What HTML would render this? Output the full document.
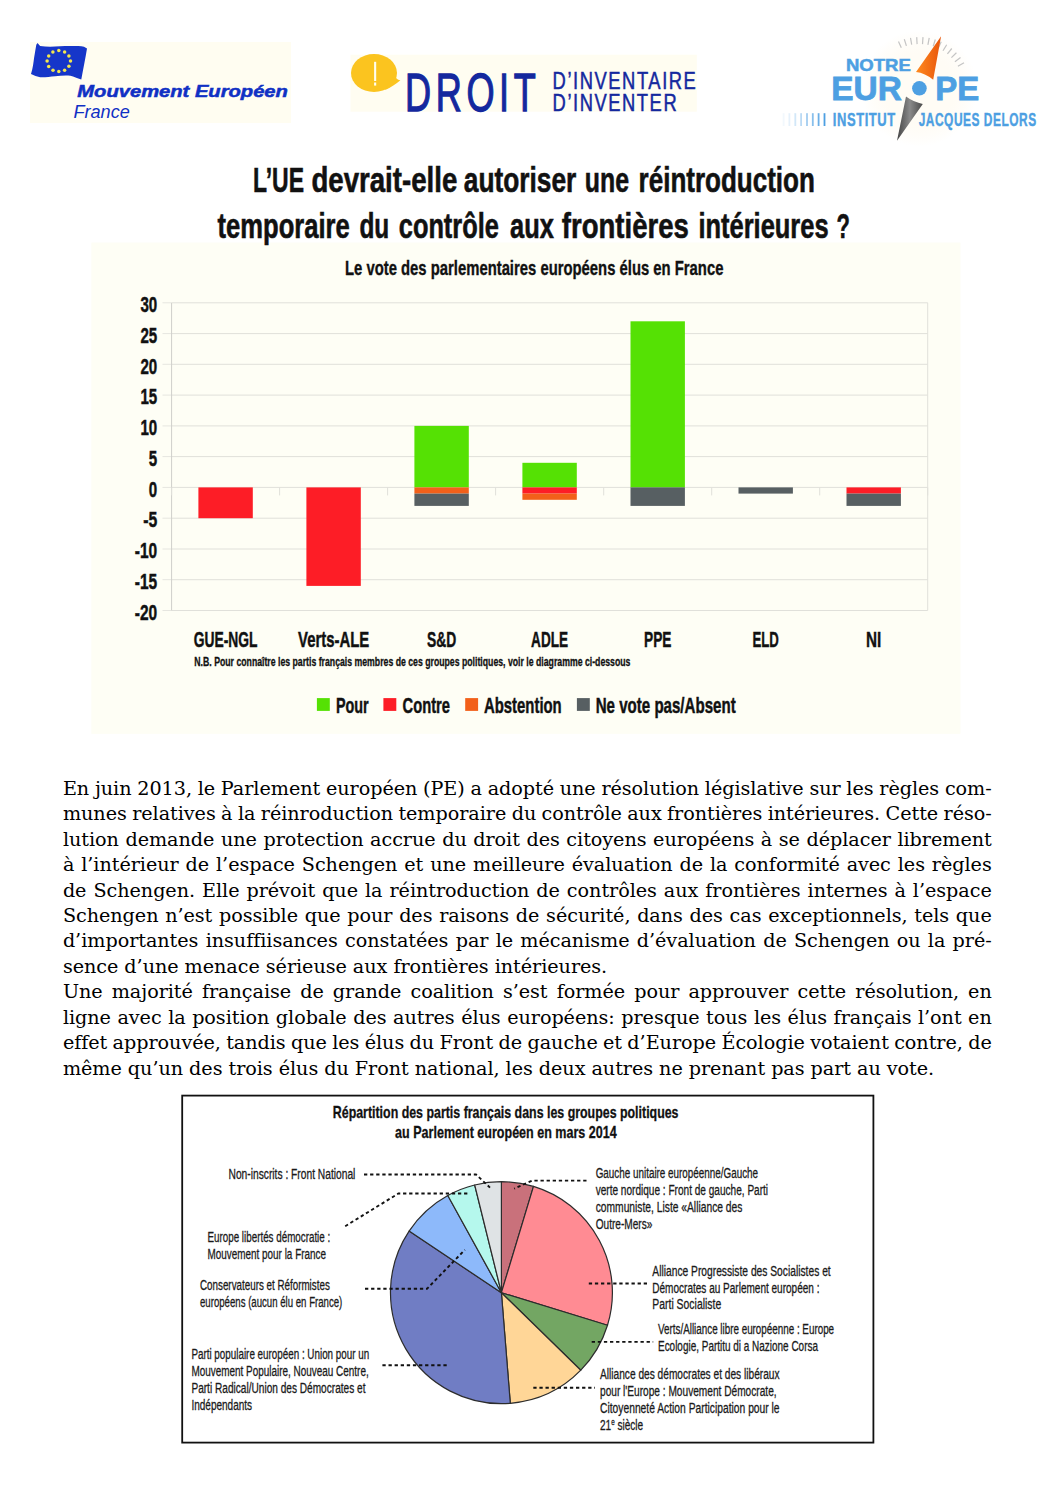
<!DOCTYPE html>
<html lang="fr"><head><meta charset="utf-8"><title>L’UE devrait-elle autoriser une réintroduction temporaire du contrôle aux frontières intérieures ?</title>
<style>
html,body{margin:0;padding:0;background:#fff}
body{width:1058px;height:1497px;position:relative;overflow:hidden}
svg{position:absolute;left:0;top:0}
svg text{font-family:"Liberation Sans",sans-serif;white-space:pre}
.ln{position:absolute;left:62.9px;white-space:nowrap;font-family:"DejaVu Serif","Liberation Serif",serif;font-size:19.2px;line-height:25px;height:25px;letter-spacing:-0.05px;color:#000}
</style></head><body>
<svg width="1058" height="1497" viewBox="0 0 1058 1497">
<rect x="30.0" y="42.0" width="261.0" height="81.0" fill="#fffdf1" />
<path d="M37.5,42.9 L40.1,46 C50,47.6 60,46 70,46 C76,46 81,46 84,46.7 L87,48.6 C85.5,58 83,70 81.3,79.6 C77,78.5 74,76.5 70.4,75.8 C65,75 60,76 55.2,76.2 C50,76.5 45,77.6 40.1,77.3 C37,76.5 34,75.3 31,73.9 C33,68 33.5,62 34.1,57.7 C35,53 35.5,49 36.3,44.8 Z" fill="#1636c9"/>
<circle cx="58.8" cy="50.6" r="1.75" fill="#f3e64e"/>
<circle cx="64.6" cy="52.0" r="1.75" fill="#f3e64e"/>
<circle cx="68.9" cy="55.9" r="1.75" fill="#f3e64e"/>
<circle cx="70.5" cy="61.1" r="1.75" fill="#f3e64e"/>
<circle cx="68.9" cy="66.3" r="1.75" fill="#f3e64e"/>
<circle cx="64.6" cy="70.2" r="1.75" fill="#f3e64e"/>
<circle cx="58.8" cy="71.6" r="1.75" fill="#f3e64e"/>
<circle cx="53.0" cy="70.2" r="1.75" fill="#f3e64e"/>
<circle cx="48.7" cy="66.4" r="1.75" fill="#f3e64e"/>
<circle cx="47.1" cy="61.1" r="1.75" fill="#f3e64e"/>
<circle cx="48.7" cy="55.9" r="1.75" fill="#f3e64e"/>
<circle cx="52.9" cy="52.0" r="1.75" fill="#f3e64e"/>
<text x="77.3" y="97.3" font-size="16" font-weight="bold" fill="#1030c4" font-style="italic" textLength="210.6" lengthAdjust="spacingAndGlyphs" stroke="#1030c4" stroke-width="0.5" >Mouvement Européen</text>
<text x="73.4" y="118.0" font-size="18" font-weight="normal" fill="#1030c4" font-style="italic" textLength="56.4" lengthAdjust="spacingAndGlyphs" >France</text>
<rect x="350.5" y="54.7" width="346.3" height="57.0" fill="#fffdf1" />
<ellipse cx="374" cy="73" rx="23" ry="19" fill="#fbc41f"/>
<path d="M394,74 C395,77 396.5,79.5 400.4,80.3 C396,84 391,87.5 385,90 Z" fill="#fbc41f"/>
<rect x="374.1" y="61.8" width="2.1" height="19.2" fill="#fffef0" />
<rect x="374.1" y="82.5" width="2.1" height="3.1" fill="#fffef0" />
<text x="405.0" y="111.0" font-size="54.2" font-weight="normal" fill="#14289e" textLength="135.5" lengthAdjust="spacingAndGlyphs" stroke="#14289e" stroke-width="1.3" letter-spacing="7">DROIT</text>
<text x="552.6" y="89.0" font-size="23.4" font-weight="normal" fill="#14289e" textLength="144.8" lengthAdjust="spacingAndGlyphs" stroke="#14289e" stroke-width="0.5" letter-spacing="2">D’INVENTAIRE</text>
<text x="552.6" y="111.0" font-size="23.4" font-weight="normal" fill="#14289e" textLength="125.6" lengthAdjust="spacingAndGlyphs" stroke="#14289e" stroke-width="0.5" letter-spacing="2">D’INVENTER</text>
<defs><radialGradient id="halo"><stop offset="0" stop-color="#fffcf5"/><stop offset="0.6" stop-color="#fffcf5"/><stop offset="1" stop-color="#fffaf0" stop-opacity="0"/></radialGradient><linearGradient id="fade" x1="0" x2="1"><stop offset="0" stop-color="#4d9fe2" stop-opacity="0.08"/><stop offset="1" stop-color="#4d9fe2" stop-opacity="1"/></linearGradient><linearGradient id="org" x1="0" x2="1"><stop offset="0" stop-color="#ff8a1e"/><stop offset="1" stop-color="#e8560c"/></linearGradient><linearGradient id="gry" x1="0" x2="1"><stop offset="0" stop-color="#444"/><stop offset="0.5" stop-color="#8a8a8a"/><stop offset="1" stop-color="#4a4a4a"/></linearGradient></defs>
<circle cx="919.4" cy="88.5" r="58" fill="url(#halo)"/>
<line x1="901.3" y1="47.8" x2="898.5" y2="41.5" stroke="#c4c4c4" stroke-width="1.2" />
<line x1="906.4" y1="45.9" x2="904.3" y2="39.3" stroke="#c4c4c4" stroke-width="1.2" />
<line x1="911.7" y1="44.7" x2="910.5" y2="37.8" stroke="#c4c4c4" stroke-width="1.2" />
<line x1="917.1" y1="44.1" x2="916.7" y2="37.1" stroke="#c4c4c4" stroke-width="1.2" />
<line x1="922.5" y1="44.1" x2="923.0" y2="37.1" stroke="#c4c4c4" stroke-width="1.2" />
<line x1="927.9" y1="44.8" x2="929.2" y2="37.9" stroke="#c4c4c4" stroke-width="1.2" />
<line x1="933.2" y1="46.2" x2="935.3" y2="39.5" stroke="#c4c4c4" stroke-width="1.2" />
<line x1="938.2" y1="48.2" x2="941.2" y2="41.8" stroke="#c4c4c4" stroke-width="1.2" />
<line x1="943.0" y1="50.8" x2="946.7" y2="44.8" stroke="#c4c4c4" stroke-width="1.2" />
<line x1="947.4" y1="53.9" x2="951.8" y2="48.5" stroke="#c4c4c4" stroke-width="1.2" />
<line x1="951.4" y1="57.6" x2="956.4" y2="52.7" stroke="#c4c4c4" stroke-width="1.2" />
<line x1="954.9" y1="61.7" x2="960.5" y2="57.5" stroke="#c4c4c4" stroke-width="1.2" />
<line x1="957.9" y1="66.2" x2="964.0" y2="62.7" stroke="#c4c4c4" stroke-width="1.2" />
<text x="846.0" y="70.5" font-size="16.2" font-weight="bold" fill="#4d9fe2" textLength="64.8" lengthAdjust="spacingAndGlyphs" stroke="#4d9fe2" stroke-width="0.5" >NOTRE</text>
<text x="831.2" y="100.1" font-size="33.4" font-weight="bold" fill="#4d9fe2" textLength="70.6" lengthAdjust="spacingAndGlyphs" stroke="#4d9fe2" stroke-width="0.8" >EUR</text>
<text x="935.2" y="100.1" font-size="33.4" font-weight="bold" fill="#4d9fe2" textLength="44.0" lengthAdjust="spacingAndGlyphs" stroke="#4d9fe2" stroke-width="0.8" >PE</text>
<circle cx="919.4" cy="88.3" r="7.3" fill="#4d9fe2"/>
<path d="M941.1,36.2 L916,72 Q925,73 933.2,79.8 Z" fill="url(#org)"/>
<path d="M906,96.6 Q914,102.5 922.8,103.9 L897,140.8 Z" fill="url(#gry)"/>
<rect x="782.7" y="113.2" width="1.8" height="12.8" fill="#4d9fe2" opacity="0.07"/>
<rect x="788.5" y="113.2" width="1.8" height="12.8" fill="#4d9fe2" opacity="0.14"/>
<rect x="794.4" y="113.2" width="1.8" height="12.8" fill="#4d9fe2" opacity="0.25"/>
<rect x="800.2" y="113.2" width="1.8" height="12.8" fill="#4d9fe2" opacity="0.38"/>
<rect x="806.1" y="113.2" width="1.8" height="12.8" fill="#4d9fe2" opacity="0.52"/>
<rect x="811.9" y="113.2" width="1.8" height="12.8" fill="#4d9fe2" opacity="0.67"/>
<rect x="817.7" y="113.2" width="1.8" height="12.8" fill="#4d9fe2" opacity="0.83"/>
<rect x="823.6" y="113.2" width="1.8" height="12.8" fill="#4d9fe2" opacity="1.00"/>
<text x="832.8" y="126.0" font-size="18.2" font-weight="bold" fill="#4d9fe2" textLength="63.0" lengthAdjust="spacingAndGlyphs" stroke="#4d9fe2" stroke-width="0.4" letter-spacing="0.8">INSTITUT</text>
<text x="918.7" y="126.0" font-size="18.2" font-weight="bold" fill="#4d9fe2" textLength="118.0" lengthAdjust="spacingAndGlyphs" stroke="#4d9fe2" stroke-width="0.4" letter-spacing="0.8">JACQUES DELORS</text>
<rect x="91.3" y="242.5" width="869.2" height="491.4" fill="#fefef5" />
<text y="192.4" font-size="35.2" font-weight="bold" fill="#111" stroke="#111" stroke-width="0.6"><tspan x="253.0" textLength="51.0" lengthAdjust="spacingAndGlyphs">L’UE</tspan> <tspan x="311.4" textLength="145.9" lengthAdjust="spacingAndGlyphs">devrait-elle</tspan> <tspan x="463.8" textLength="112.5" lengthAdjust="spacingAndGlyphs">autoriser</tspan> <tspan x="584.8" textLength="44.2" lengthAdjust="spacingAndGlyphs">une</tspan> <tspan x="638.6" textLength="176.2" lengthAdjust="spacingAndGlyphs">réintroduction</tspan></text>
<text y="237.8" font-size="35.2" font-weight="bold" fill="#111" stroke="#111" stroke-width="0.6"><tspan x="217.6" textLength="132.2" lengthAdjust="spacingAndGlyphs">temporaire</tspan> <tspan x="359.4" textLength="29.8" lengthAdjust="spacingAndGlyphs">du</tspan> <tspan x="398.8" textLength="100.0" lengthAdjust="spacingAndGlyphs">contrôle</tspan> <tspan x="510.0" textLength="43.8" lengthAdjust="spacingAndGlyphs">aux</tspan> <tspan x="561.8" textLength="127.0" lengthAdjust="spacingAndGlyphs">frontières</tspan> <tspan x="698.4" textLength="130.2" lengthAdjust="spacingAndGlyphs">intérieures</tspan> <tspan x="836.6" textLength="13.4" lengthAdjust="spacingAndGlyphs">?</tspan></text>
<text x="345.0" y="274.5" font-size="19.8" font-weight="bold" fill="#111" textLength="378.4" lengthAdjust="spacingAndGlyphs" stroke="#111" stroke-width="0.35" >Le vote des parlementaires européens élus en France</text>
<line x1="171.6" y1="302.8" x2="927.7" y2="302.8" stroke="#e0e0da" stroke-width="1" />
<line x1="162.5" y1="302.8" x2="171.6" y2="302.8" stroke="#e6e6e0" stroke-width="1" />
<line x1="171.6" y1="333.6" x2="927.7" y2="333.6" stroke="#e0e0da" stroke-width="1" />
<line x1="162.5" y1="333.6" x2="171.6" y2="333.6" stroke="#e6e6e0" stroke-width="1" />
<line x1="171.6" y1="364.3" x2="927.7" y2="364.3" stroke="#e0e0da" stroke-width="1" />
<line x1="162.5" y1="364.3" x2="171.6" y2="364.3" stroke="#e6e6e0" stroke-width="1" />
<line x1="171.6" y1="395.1" x2="927.7" y2="395.1" stroke="#e0e0da" stroke-width="1" />
<line x1="162.5" y1="395.1" x2="171.6" y2="395.1" stroke="#e6e6e0" stroke-width="1" />
<line x1="171.6" y1="425.9" x2="927.7" y2="425.9" stroke="#e0e0da" stroke-width="1" />
<line x1="162.5" y1="425.9" x2="171.6" y2="425.9" stroke="#e6e6e0" stroke-width="1" />
<line x1="171.6" y1="456.6" x2="927.7" y2="456.6" stroke="#e0e0da" stroke-width="1" />
<line x1="162.5" y1="456.6" x2="171.6" y2="456.6" stroke="#e6e6e0" stroke-width="1" />
<line x1="171.6" y1="487.4" x2="927.7" y2="487.4" stroke="#e0e0da" stroke-width="1" />
<line x1="162.5" y1="487.4" x2="171.6" y2="487.4" stroke="#e6e6e0" stroke-width="1" />
<line x1="171.6" y1="518.2" x2="927.7" y2="518.2" stroke="#e0e0da" stroke-width="1" />
<line x1="162.5" y1="518.2" x2="171.6" y2="518.2" stroke="#e6e6e0" stroke-width="1" />
<line x1="171.6" y1="549.0" x2="927.7" y2="549.0" stroke="#e0e0da" stroke-width="1" />
<line x1="162.5" y1="549.0" x2="171.6" y2="549.0" stroke="#e6e6e0" stroke-width="1" />
<line x1="171.6" y1="579.7" x2="927.7" y2="579.7" stroke="#e0e0da" stroke-width="1" />
<line x1="162.5" y1="579.7" x2="171.6" y2="579.7" stroke="#e6e6e0" stroke-width="1" />
<line x1="171.6" y1="610.5" x2="927.7" y2="610.5" stroke="#e0e0da" stroke-width="1" />
<line x1="162.5" y1="610.5" x2="171.6" y2="610.5" stroke="#e6e6e0" stroke-width="1" />
<line x1="171.6" y1="302.8" x2="171.6" y2="610.5" stroke="#cfcfca" stroke-width="1" />
<line x1="927.7" y1="302.8" x2="927.7" y2="610.5" stroke="#e0e0da" stroke-width="1" />
<line x1="171.6" y1="487.4" x2="171.6" y2="495.4" stroke="#e0e0da" stroke-width="1" />
<line x1="279.6" y1="487.4" x2="279.6" y2="495.4" stroke="#e0e0da" stroke-width="1" />
<line x1="387.6" y1="487.4" x2="387.6" y2="495.4" stroke="#e0e0da" stroke-width="1" />
<line x1="495.6" y1="487.4" x2="495.6" y2="495.4" stroke="#e0e0da" stroke-width="1" />
<line x1="603.7" y1="487.4" x2="603.7" y2="495.4" stroke="#e0e0da" stroke-width="1" />
<line x1="711.7" y1="487.4" x2="711.7" y2="495.4" stroke="#e0e0da" stroke-width="1" />
<line x1="819.7" y1="487.4" x2="819.7" y2="495.4" stroke="#e0e0da" stroke-width="1" />
<line x1="927.7" y1="487.4" x2="927.7" y2="495.4" stroke="#e0e0da" stroke-width="1" />
<text x="140.4" y="312.0" font-size="22.7" font-weight="bold" fill="#111" textLength="16.8" lengthAdjust="spacingAndGlyphs" stroke="#111" stroke-width="0.5" >30</text>
<text x="140.4" y="342.8" font-size="22.7" font-weight="bold" fill="#111" textLength="16.8" lengthAdjust="spacingAndGlyphs" stroke="#111" stroke-width="0.5" >25</text>
<text x="140.4" y="373.5" font-size="22.7" font-weight="bold" fill="#111" textLength="16.8" lengthAdjust="spacingAndGlyphs" stroke="#111" stroke-width="0.5" >20</text>
<text x="140.4" y="404.3" font-size="22.7" font-weight="bold" fill="#111" textLength="16.8" lengthAdjust="spacingAndGlyphs" stroke="#111" stroke-width="0.5" >15</text>
<text x="140.4" y="435.1" font-size="22.7" font-weight="bold" fill="#111" textLength="16.8" lengthAdjust="spacingAndGlyphs" stroke="#111" stroke-width="0.5" >10</text>
<text x="148.8" y="465.8" font-size="22.7" font-weight="bold" fill="#111" textLength="8.4" lengthAdjust="spacingAndGlyphs" stroke="#111" stroke-width="0.5" >5</text>
<text x="148.8" y="496.6" font-size="22.7" font-weight="bold" fill="#111" textLength="8.4" lengthAdjust="spacingAndGlyphs" stroke="#111" stroke-width="0.5" >0</text>
<text x="143.2" y="527.4" font-size="22.7" font-weight="bold" fill="#111" textLength="14.0" lengthAdjust="spacingAndGlyphs" stroke="#111" stroke-width="0.5" >-5</text>
<text x="134.8" y="558.2" font-size="22.7" font-weight="bold" fill="#111" textLength="22.4" lengthAdjust="spacingAndGlyphs" stroke="#111" stroke-width="0.5" >-10</text>
<text x="134.8" y="588.9" font-size="22.7" font-weight="bold" fill="#111" textLength="22.4" lengthAdjust="spacingAndGlyphs" stroke="#111" stroke-width="0.5" >-15</text>
<text x="134.8" y="619.7" font-size="22.7" font-weight="bold" fill="#111" textLength="22.4" lengthAdjust="spacingAndGlyphs" stroke="#111" stroke-width="0.5" >-20</text>
<rect x="198.4" y="487.4" width="54.4" height="30.8" fill="#fd1d26" />
<rect x="306.4" y="487.4" width="54.4" height="98.5" fill="#fd1d26" />
<rect x="414.4" y="425.9" width="54.4" height="61.5" fill="#55e104" />
<rect x="414.4" y="487.4" width="54.4" height="6.2" fill="#f2601a" />
<rect x="414.4" y="493.6" width="54.4" height="12.3" fill="#575f62" />
<rect x="522.4" y="462.8" width="54.4" height="24.6" fill="#55e104" />
<rect x="522.4" y="487.4" width="54.4" height="6.2" fill="#fd1d26" />
<rect x="522.4" y="493.6" width="54.4" height="6.2" fill="#f2601a" />
<rect x="630.5" y="321.3" width="54.4" height="166.2" fill="#55e104" />
<rect x="630.5" y="487.4" width="54.4" height="18.5" fill="#575f62" />
<rect x="738.5" y="487.4" width="54.4" height="6.2" fill="#575f62" />
<rect x="846.5" y="487.4" width="54.4" height="6.2" fill="#fd1d26" />
<rect x="846.5" y="493.6" width="54.4" height="12.3" fill="#575f62" />
<text x="193.7" y="647.0" font-size="21.9" font-weight="bold" fill="#111" textLength="63.8" lengthAdjust="spacingAndGlyphs" stroke="#111" stroke-width="0.45" >GUE-NGL</text>
<text x="298.1" y="647.0" font-size="21.9" font-weight="bold" fill="#111" textLength="71.1" lengthAdjust="spacingAndGlyphs" stroke="#111" stroke-width="0.45" >Verts-ALE</text>
<text x="427.0" y="647.0" font-size="21.9" font-weight="bold" fill="#111" textLength="29.2" lengthAdjust="spacingAndGlyphs" stroke="#111" stroke-width="0.45" >S&amp;D</text>
<text x="531.1" y="647.0" font-size="21.9" font-weight="bold" fill="#111" textLength="37.0" lengthAdjust="spacingAndGlyphs" stroke="#111" stroke-width="0.45" >ADLE</text>
<text x="644.0" y="647.0" font-size="21.9" font-weight="bold" fill="#111" textLength="27.4" lengthAdjust="spacingAndGlyphs" stroke="#111" stroke-width="0.45" >PPE</text>
<text x="752.5" y="647.0" font-size="21.9" font-weight="bold" fill="#111" textLength="26.4" lengthAdjust="spacingAndGlyphs" stroke="#111" stroke-width="0.45" >ELD</text>
<text x="866.0" y="647.0" font-size="21.9" font-weight="bold" fill="#111" textLength="15.3" lengthAdjust="spacingAndGlyphs" stroke="#111" stroke-width="0.45" >NI</text>
<text x="194.3" y="665.6" font-size="12.2" font-weight="bold" fill="#111" textLength="436.1" lengthAdjust="spacingAndGlyphs" stroke="#111" stroke-width="0.3" >N.B. Pour connaître les partis français membres de ces groupes politiques, voir le diagramme ci-dessous</text>
<rect x="316.9" y="698.1" width="12.9" height="12.8" fill="#55e104" />
<text x="336.0" y="712.9" font-size="21.5" font-weight="bold" fill="#111" textLength="32.7" lengthAdjust="spacingAndGlyphs" stroke="#111" stroke-width="0.45" >Pour</text>
<rect x="383.4" y="698.1" width="12.9" height="12.8" fill="#fd1d26" />
<text x="402.6" y="712.9" font-size="21.5" font-weight="bold" fill="#111" textLength="47.4" lengthAdjust="spacingAndGlyphs" stroke="#111" stroke-width="0.45" >Contre</text>
<rect x="465.2" y="698.1" width="12.9" height="12.8" fill="#f2601a" />
<text x="484.0" y="712.9" font-size="21.5" font-weight="bold" fill="#111" textLength="77.7" lengthAdjust="spacingAndGlyphs" stroke="#111" stroke-width="0.45" >Abstention</text>
<rect x="576.9" y="698.1" width="12.9" height="12.8" fill="#575f62" />
<text x="595.7" y="712.9" font-size="21.5" font-weight="bold" fill="#111" textLength="140.0" lengthAdjust="spacingAndGlyphs" stroke="#111" stroke-width="0.45" >Ne vote pas/Absent</text>
<rect x="182.2" y="1095.6" width="691.2" height="347.0" fill="#fff" stroke="#111" stroke-width="1.8"/>
<text x="332.8" y="1117.6" font-size="16.2" font-weight="bold" fill="#111" textLength="345.7" lengthAdjust="spacingAndGlyphs" stroke="#111" stroke-width="0.3" >Répartition des partis français dans les groupes politiques</text>
<text x="395.1" y="1138.3" font-size="16.2" font-weight="bold" fill="#111" textLength="221.6" lengthAdjust="spacingAndGlyphs" stroke="#111" stroke-width="0.3" >au Parlement européen en mars 2014</text>
<path d="M501.4,1292.7 L501.4,1181.7 A111,111 0 0 1 533.5,1186.4 Z" fill="#c9717b" stroke="#2c2c2c" stroke-width="1.2" stroke-linejoin="round"/>
<path d="M501.4,1292.7 L533.5,1186.4 A111,111 0 0 1 607.5,1325.3 Z" fill="#ff8b93" stroke="#2c2c2c" stroke-width="1.2" stroke-linejoin="round"/>
<path d="M501.4,1292.7 L607.5,1325.3 A111,111 0 0 1 580.8,1370.2 Z" fill="#73a663" stroke="#2c2c2c" stroke-width="1.2" stroke-linejoin="round"/>
<path d="M501.4,1292.7 L580.8,1370.2 A111,111 0 0 1 510.3,1403.3 Z" fill="#ffd697" stroke="#2c2c2c" stroke-width="1.2" stroke-linejoin="round"/>
<path d="M501.4,1292.7 L510.3,1403.3 A111,111 0 0 1 409.1,1231.1 Z" fill="#707dc4" stroke="#2c2c2c" stroke-width="1.2" stroke-linejoin="round"/>
<path d="M501.4,1292.7 L409.1,1231.1 A111,111 0 0 1 447.8,1195.5 Z" fill="#8db9fa" stroke="#2c2c2c" stroke-width="1.2" stroke-linejoin="round"/>
<path d="M501.4,1292.7 L447.8,1195.5 A111,111 0 0 1 474.7,1185.0 Z" fill="#b5f8ed" stroke="#2c2c2c" stroke-width="1.2" stroke-linejoin="round"/>
<path d="M501.4,1292.7 L474.7,1185.0 A111,111 0 0 1 501.4,1181.7 Z" fill="#dfe3e5" stroke="#2c2c2c" stroke-width="1.2" stroke-linejoin="round"/>
<path d="M364.0,1174.5 L476.0,1174.5 L490.0,1187.6" fill="none" stroke="#111" stroke-width="1.9" stroke-dasharray="3.3,2.8"/>
<path d="M345.2,1226.2 L398.4,1193.5 L468.5,1193.5" fill="none" stroke="#111" stroke-width="1.9" stroke-dasharray="3.3,2.8"/>
<path d="M365.0,1288.8 L427.0,1288.8 L464.9,1249.8" fill="none" stroke="#111" stroke-width="1.9" stroke-dasharray="3.3,2.8"/>
<path d="M382.4,1365.3 L449.0,1365.3" fill="none" stroke="#111" stroke-width="1.9" stroke-dasharray="3.3,2.8"/>
<path d="M586.5,1180.6 L532.0,1180.6 L514.2,1188.6" fill="none" stroke="#111" stroke-width="1.9" stroke-dasharray="3.3,2.8"/>
<path d="M588.8,1283.5 L647.1,1283.5" fill="none" stroke="#111" stroke-width="1.9" stroke-dasharray="3.3,2.8"/>
<path d="M591.7,1341.9 L653.2,1341.9" fill="none" stroke="#111" stroke-width="1.9" stroke-dasharray="3.3,2.8"/>
<path d="M533.3,1387.8 L595.0,1387.8" fill="none" stroke="#111" stroke-width="1.9" stroke-dasharray="3.3,2.8"/>
<text x="228.5" y="1179.2" font-size="14.7" font-weight="normal" fill="#1a1a1a" textLength="126.9" lengthAdjust="spacingAndGlyphs" stroke="#1a1a1a" stroke-width="0.3" >Non-inscrits : Front National</text>
<text x="207.5" y="1242.0" font-size="14.7" font-weight="normal" fill="#1a1a1a" textLength="122.7" lengthAdjust="spacingAndGlyphs" stroke="#1a1a1a" stroke-width="0.3" >Europe libertés démocratie :</text>
<text x="207.5" y="1258.8" font-size="14.7" font-weight="normal" fill="#1a1a1a" textLength="118.5" lengthAdjust="spacingAndGlyphs" stroke="#1a1a1a" stroke-width="0.3" >Mouvement pour la France</text>
<text x="200.0" y="1290.1" font-size="14.7" font-weight="normal" fill="#1a1a1a" textLength="129.8" lengthAdjust="spacingAndGlyphs" stroke="#1a1a1a" stroke-width="0.3" >Conservateurs et Réformistes</text>
<text x="200.0" y="1306.8" font-size="14.7" font-weight="normal" fill="#1a1a1a" textLength="142.3" lengthAdjust="spacingAndGlyphs" stroke="#1a1a1a" stroke-width="0.3" >européens (aucun élu en France)</text>
<text x="191.4" y="1359.0" font-size="14.7" font-weight="normal" fill="#1a1a1a" textLength="177.8" lengthAdjust="spacingAndGlyphs" stroke="#1a1a1a" stroke-width="0.3" >Parti populaire européen : Union pour un</text>
<text x="191.4" y="1375.8" font-size="14.7" font-weight="normal" fill="#1a1a1a" textLength="177.3" lengthAdjust="spacingAndGlyphs" stroke="#1a1a1a" stroke-width="0.3" >Mouvement Populaire, Nouveau Centre,</text>
<text x="191.4" y="1392.7" font-size="14.7" font-weight="normal" fill="#1a1a1a" textLength="174.1" lengthAdjust="spacingAndGlyphs" stroke="#1a1a1a" stroke-width="0.3" >Parti Radical/Union des Démocrates et</text>
<text x="191.4" y="1409.8" font-size="14.7" font-weight="normal" fill="#1a1a1a" textLength="60.7" lengthAdjust="spacingAndGlyphs" stroke="#1a1a1a" stroke-width="0.3" >Indépendants</text>
<text x="595.7" y="1178.1" font-size="14.7" font-weight="normal" fill="#1a1a1a" textLength="162.4" lengthAdjust="spacingAndGlyphs" stroke="#1a1a1a" stroke-width="0.3" >Gauche unitaire européenne/Gauche</text>
<text x="595.7" y="1195.1" font-size="14.7" font-weight="normal" fill="#1a1a1a" textLength="172.4" lengthAdjust="spacingAndGlyphs" stroke="#1a1a1a" stroke-width="0.3" >verte nordique : Front de gauche, Parti</text>
<text x="595.7" y="1212.0" font-size="14.7" font-weight="normal" fill="#1a1a1a" textLength="146.7" lengthAdjust="spacingAndGlyphs" stroke="#1a1a1a" stroke-width="0.3" >communiste, Liste «Alliance des</text>
<text x="595.7" y="1228.7" font-size="14.7" font-weight="normal" fill="#1a1a1a" textLength="56.6" lengthAdjust="spacingAndGlyphs" stroke="#1a1a1a" stroke-width="0.3" >Outre-Mers»</text>
<text x="652.3" y="1275.5" font-size="14.7" font-weight="normal" fill="#1a1a1a" textLength="178.4" lengthAdjust="spacingAndGlyphs" stroke="#1a1a1a" stroke-width="0.3" >Alliance Progressiste des Socialistes et</text>
<text x="652.3" y="1292.5" font-size="14.7" font-weight="normal" fill="#1a1a1a" textLength="167.2" lengthAdjust="spacingAndGlyphs" stroke="#1a1a1a" stroke-width="0.3" >Démocrates au Parlement européen :</text>
<text x="652.3" y="1309.4" font-size="14.7" font-weight="normal" fill="#1a1a1a" textLength="68.9" lengthAdjust="spacingAndGlyphs" stroke="#1a1a1a" stroke-width="0.3" >Parti Socialiste</text>
<text x="658.0" y="1334.2" font-size="14.7" font-weight="normal" fill="#1a1a1a" textLength="176.1" lengthAdjust="spacingAndGlyphs" stroke="#1a1a1a" stroke-width="0.3" >Verts/Alliance libre européenne : Europe</text>
<text x="658.0" y="1351.1" font-size="14.7" font-weight="normal" fill="#1a1a1a" textLength="160.0" lengthAdjust="spacingAndGlyphs" stroke="#1a1a1a" stroke-width="0.3" >Ecologie, Partitu di a Nazione Corsa</text>
<text x="600.0" y="1379.0" font-size="14.7" font-weight="normal" fill="#1a1a1a" textLength="179.6" lengthAdjust="spacingAndGlyphs" stroke="#1a1a1a" stroke-width="0.3" >Alliance des démocrates et des libéraux</text>
<text x="600.0" y="1395.9" font-size="14.7" font-weight="normal" fill="#1a1a1a" textLength="176.6" lengthAdjust="spacingAndGlyphs" stroke="#1a1a1a" stroke-width="0.3" >pour l'Europe : Mouvement Démocrate,</text>
<text x="600.0" y="1413.2" font-size="14.7" font-weight="normal" fill="#1a1a1a" textLength="179.6" lengthAdjust="spacingAndGlyphs" stroke="#1a1a1a" stroke-width="0.3" >Citoyenneté Action Participation pour le</text>
<text x="600" y="1430.1" font-size="14.7" fill="#1a1a1a" stroke="#1a1a1a" stroke-width="0.3" textLength="43.2" lengthAdjust="spacingAndGlyphs">21<tspan font-size="9" dy="-4.8">e</tspan><tspan dy="4.8"> siècle</tspan></text>
</svg>
<div class="ln" style="top:775.75px;word-spacing:-0.296px">En juin 2013, le Parlement européen (PE) a adopté une résolution législative sur les règles com-</div>
<div class="ln" style="top:801.20px;word-spacing:-0.650px">munes relatives à la réinroduction temporaire du contrôle aux frontières intérieures. Cette réso-</div>
<div class="ln" style="top:826.65px;word-spacing:0.527px">lution demande une protection accrue du droit des citoyens européens à se déplacer librement</div>
<div class="ln" style="top:852.10px;word-spacing:0.876px">à l’intérieur de l’espace Schengen et une meilleure évaluation de la conformité avec les règles</div>
<div class="ln" style="top:877.55px;word-spacing:0.944px">de Schengen. Elle prévoit que la réintroduction de contrôles aux frontières internes à l’espace</div>
<div class="ln" style="top:903.00px;word-spacing:0.653px">Schengen n’est possible que pour des raisons de sécurité, dans des cas exceptionnels, tels que</div>
<div class="ln" style="top:928.45px;word-spacing:1.217px">d’importantes insuffiisances constatées par le mécanisme d’évaluation de Schengen ou la pré-</div>
<div class="ln" style="top:953.90px;word-spacing:0.000px">sence d’une menace sérieuse aux frontières intérieures.</div>
<div class="ln" style="top:979.35px;word-spacing:3.051px">Une majorité française de grande coalition s’est formée pour approuver cette résolution, en</div>
<div class="ln" style="top:1004.80px;word-spacing:0.471px">ligne avec la position globale des autres élus européens: presque tous les élus français l’ont en</div>
<div class="ln" style="top:1030.25px;word-spacing:-0.710px">effet approuvée, tandis que les élus du Front de gauche et d’Europe Écologie votaient contre, de</div>
<div class="ln" style="top:1055.70px;word-spacing:0.000px">même qu’un des trois élus du Front national, les deux autres ne prenant pas part au vote.</div>
</body></html>
